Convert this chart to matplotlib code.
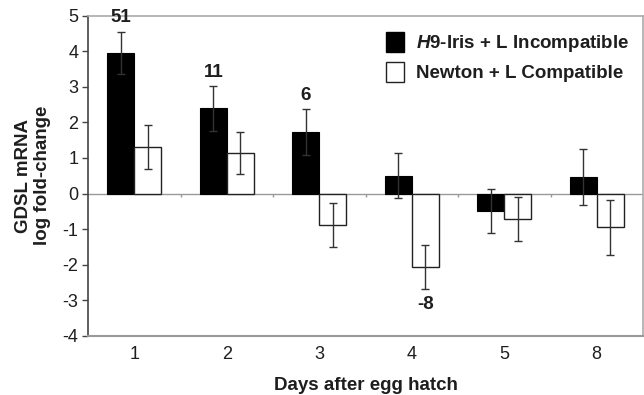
import matplotlib
matplotlib.use("Agg")
import matplotlib.pyplot as plt
from matplotlib.patches import Patch
import numpy as np

plt.rcParams['font.family'] = ['Liberation Sans', 'DejaVu Sans']
plt.rcParams['mathtext.fontset'] = 'custom'
plt.rcParams['mathtext.it'] = 'Liberation Sans:italic:bold'
plt.rcParams['mathtext.rm'] = 'Liberation Sans:bold'
plt.rcParams['mathtext.bf'] = 'Liberation Sans:bold'

days = ['1', '2', '3', '4', '5', '8']
incompatible = [3.95, 2.39, 1.72, 0.50, -0.49, 0.47]
incompatible_err = [0.60, 0.63, 0.65, 0.63, 0.62, 0.78]
compatible = [1.31, 1.14, -0.89, -2.07, -0.71, -0.95]
compatible_err = [0.62, 0.60, 0.62, 0.62, 0.62, 0.77]

# fold-change annotations: (category index, series, label)
ann_idx = [0, 1, 2, 3]
ann_series = ['inc', 'inc', 'inc', 'comp']
ann_text = ['51', '11', '6', '-8']

yticks = [-4, -3, -2, -1, 0, 1, 2, 3, 4, 5]

txt = '#1e1e1e'
fig = plt.figure(figsize=(6.44, 3.95), dpi=100)
ax = fig.add_axes([88/644, 1-336/395, 555/644, (336-15.5)/395])

x = np.arange(len(days))
w = 0.29
ax.bar(x - w/2, incompatible, w, color='black', edgecolor='black', linewidth=0.8, zorder=2)
ax.bar(x + w/2, compatible, w, color='white', edgecolor='#222222', linewidth=1.0, zorder=2)
ax.errorbar(x - w/2, incompatible, yerr=incompatible_err, fmt='none', ecolor='#333333',
            elinewidth=1.0, capsize=3, capthick=1.0, zorder=3)
ax.errorbar(x + w/2, compatible, yerr=compatible_err, fmt='none', ecolor='#333333',
            elinewidth=1.0, capsize=3, capthick=1.0, zorder=3)

# zero line with category boundary ticks
ax.axhline(0, color='#999999', linewidth=1.0, zorder=1)
ax.vlines(np.arange(len(days) - 1) + 0.5, -0.11, 0, color='#999999', linewidth=1.0, zorder=1)

for i, s, t in zip(ann_idx, ann_series, ann_text):
    if s == 'inc':
        xp = x[i] - w/2
        yp = incompatible[i] + incompatible_err[i] + 0.38
    else:
        xp = x[i] + w/2
        yp = compatible[i] - compatible_err[i] - 0.42
    ax.text(xp, yp, t, ha='center', va='center', fontsize=13.5, fontweight='bold', color=txt,
            zorder=4)

ax.set_xlim(-0.5, len(days) - 0.5)
ax.set_ylim(-4, 5)
ax.set_yticks(yticks)
ax.set_yticklabels([str(v) for v in yticks])
ax.set_xticks(x)
ax.set_xticklabels(days)
ax.tick_params(axis='x', length=0, pad=7, labelsize=13, labelcolor=txt)
ax.tick_params(axis='y', length=4, width=1, color='#444444', pad=3, labelsize=13, labelcolor=txt)

ax.spines['left'].set_color('#444444')
ax.spines['left'].set_linewidth(1.2)
ax.spines['bottom'].set_color('#999999')
ax.spines['bottom'].set_linewidth(1.5)
ax.spines['top'].set_color('#aaaaaa')
ax.spines['top'].set_linewidth(1.2)
ax.spines['right'].set_color('#aaaaaa')
ax.spines['right'].set_linewidth(1.2)

ax.set_xlabel('Days after egg hatch', fontsize=13.5, fontweight='bold', color=txt, labelpad=10)
ax.set_ylabel('GDSL mRNA\nlog fold-change', fontsize=13.5, fontweight='bold', color=txt,
              labelpad=8, linespacing=1.15)

handles = [Patch(facecolor='black', edgecolor='black'),
           Patch(facecolor='white', edgecolor='#222222')]
labels = [r'$\mathit{H9}$-Iris + L Incompatible', 'Newton + L Compatible']
leg = ax.legend(handles, labels, loc='upper right', bbox_to_anchor=(0.995, 0.985), frameon=False,
                prop={'size': 13.5, 'weight': 'bold'}, handlelength=1.0, handleheight=1.3,
                handletextpad=0.6, labelspacing=0.4, borderaxespad=0.2)
for t in leg.get_texts():
    t.set_color(txt)

fig.savefig('out.png', dpi=100)
